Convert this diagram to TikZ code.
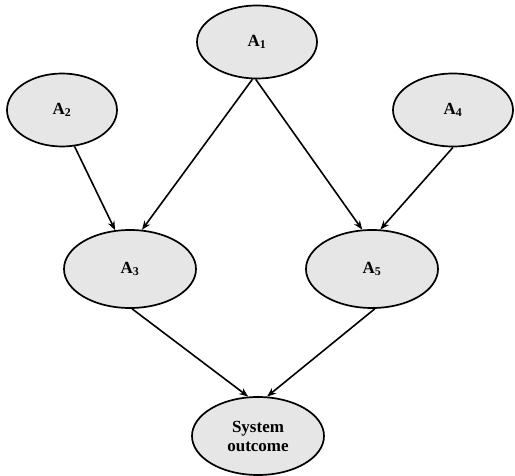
\documentclass[tikz,border=0pt]{standalone}
\usepackage{fontspec}
\setmainfont{Liberation Serif}
\usetikzlibrary{shapes.geometric,arrows.meta}
\definecolor{nodefill}{HTML}{E6E6E6}
\tikzset{
  evt/.style={ellipse, draw=black, line width=1.7pt, fill=nodefill, inner sep=0pt,
    font=\fontsize{17}{19}\selectfont\bfseries, align=center},
  small/.style={evt, minimum width=112pt, minimum height=73pt},
  big/.style={evt, minimum width=132pt, minimum height=78pt},
  link/.style={line width=1.6pt, -{Stealth[length=9pt,width=7pt]}}
}
\begin{document}
\begin{tikzpicture}[x=1pt,y=-1pt]
\useasboundingbox (0,0) rectangle (515,476);
\node[small, minimum width=120pt] (A1) at (257,42) {A\textsubscript{1}};
\node[small, minimum width=110pt] (A2) at (62,110) {A\textsubscript{2}};
\node[small, minimum width=120pt] (A4) at (453,110) {A\textsubscript{4}};
\node[big] (A3) at (130,269) {A\textsubscript{3}};
\node[big] (A5) at (372,269) {A\textsubscript{5}};
\node[big] (SO) at (258,436) {System\\outcome};
\draw[link] (A1.-97) -- (A3.73);
\draw[link] (A1.-92) -- (A5.104);
\draw[link] (A2.-71) -- (A3.111);
\draw[link] (A4.-90) -- (A5.78);
\draw[link] (A3.-87) -- (SO.104);
\draw[link] (A5.-86) -- (SO.77);
\end{tikzpicture}
\end{document}
